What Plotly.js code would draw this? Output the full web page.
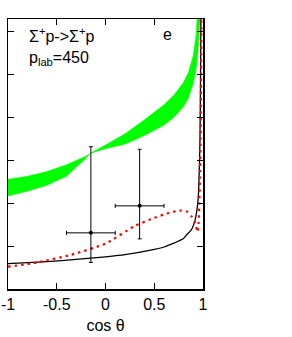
<!DOCTYPE html>
<html><head><meta charset="utf-8">
<script src="https://cdn.plot.ly/plotly-3.0.1.min.js"></script>
<style>html,body{margin:0;padding:0;background:#fff;}#chart{width:292px;height:337px;}</style>
</head><body><div id="chart"></div>
<script>
// Green band (upper / lower edges)
const bandUpperX = [-1, -0.8, -0.6, -0.4, -0.2, -0.16, 0, 0.2, 0.4, 0.6, 0.7, 0.8, 0.85, 0.9, 0.93, 0.95, 0.97];
const bandUpperY = [2.56, 2.63, 2.74, 2.90, 3.10, 3.16, 3.36, 3.62, 3.95, 4.30, 4.52, 4.82, 5.05, 5.45, 5.95, 6.5, 7.5];
const bandLowerX = [-1, -0.8, -0.6, -0.4, -0.2, -0.16, 0, 0.2, 0.4, 0.6, 0.7, 0.8, 0.85, 0.9, 0.93, 0.95, 0.97, 0.99];
const bandLowerY = [2.17, 2.28, 2.42, 2.63, 3.05, 3.16, 3.27, 3.38, 3.58, 3.82, 4.00, 4.25, 4.45, 4.80, 5.15, 5.6, 6.3, 8];
// Black solid curve
const solidX = [-1, -0.6, -0.3, 0, 0.2, 0.45, 0.6, 0.7, 0.8, 0.833, 0.88, 0.92, 0.946, 0.955, 0.962, 0.969, 0.975, 0.98];
const solidY = [0.59, 0.64, 0.69, 0.75, 0.80, 0.90, 0.98, 1.07, 1.18, 1.27, 1.38, 1.62, 2.0, 2.3, 2.8, 3.5, 5, 7];
// Red dotted curve
const dotX = [-1, -0.7, -0.35, 0, 0.3, 0.5, 0.63, 0.73, 0.78, 0.84, 0.884, 0.918, 0.946, 0.955, 0.962, 0.968, 0.975, 0.98, 0.985];
const dotY = [0.52, 0.62, 0.80, 1.06, 1.47, 1.66, 1.76, 1.82, 1.83, 1.80, 1.69, 1.54, 1.33, 1.55, 2.0, 2.5, 3.5, 5, 7];
// Data points
const ptX = [-0.15, 0.35];
const ptY = [1.31, 1.94];
const ptXerr = [0.25, 0.25];
const ptYerrPlus = [2.01, 1.32];
const ptYerrMinus = [0.69, 0.77];
// Ticks
const xTickVals = [-1, -0.5, 0, 0.5, 1];
const xTickText = ["-1", "-0.5", "0", "0.5", "1"];
const yTickVals = [0, 1, 2, 3, 4, 5, 6];

const font = "Liberation Sans, Arial, Helvetica, sans-serif";

const traces = [
  {x: bandLowerX, y: bandLowerY, mode: 'lines', line: {color: '#00ff00', width: 0.5}, hoverinfo: 'skip', showlegend: false},
  {x: bandUpperX, y: bandUpperY, mode: 'lines', fill: 'tonexty', fillcolor: '#00ff00', line: {color: '#00ff00', width: 0.5}, hoverinfo: 'skip', showlegend: false},
  {x: solidX, y: solidY, mode: 'lines', line: {color: '#000000', width: 1.3, shape: 'spline', smoothing: 0.6}, showlegend: false},
  {x: dotX, y: dotY, mode: 'lines', line: {color: '#ff0000', width: 2.2, dash: '2.5px,4px', shape: 'spline', smoothing: 0.6}, showlegend: false},
  {x: ptX, y: ptY, mode: 'markers', marker: {color: '#000', size: 4},
   error_x: {type: 'data', array: ptXerr, color: '#000', thickness: 1, width: 2},
   error_y: {type: 'data', symmetric: false, array: ptYerrPlus, arrayminus: ptYerrMinus, color: '#000', thickness: 1, width: 2},
   showlegend: false}
];

const layout = {
  width: 292, height: 337,
  margin: {l: 8, r: 89, t: 19, b: 48, pad: 0},
  paper_bgcolor: '#fff', plot_bgcolor: '#fff',
  font: {family: font, size: 16, color: '#000'},
  xaxis: {
    range: [-1, 1], tickvals: xTickVals, ticktext: xTickText,
    ticks: 'inside', ticklen: 6, tickwidth: 1.2, tickcolor: '#000',
    showline: true, linecolor: '#000', linewidth: 1.5, mirror: 'ticks',
    showgrid: false, zeroline: false,
    tickfont: {family: font, size: 16, color: '#000'},
    title: {text: 'cos θ', font: {family: font, size: 16, color: '#000'}, standoff: 8}
  },
  yaxis: {
    range: [0, 6.3], tickvals: yTickVals,
    ticks: 'inside', ticklen: 6, tickwidth: 1.2, tickcolor: '#000',
    showline: true, linecolor: '#000', linewidth: 1.5, mirror: 'ticks',
    showgrid: false, zeroline: false, showticklabels: false
  },
  annotations: [
    {xref: 'paper', yref: 'paper', x: 0.097, y: 0.941, xanchor: 'left', yanchor: 'middle', showarrow: false,
     text: 'Σ<sup>+</sup>p-&gt;Σ<sup>+</sup>p', font: {family: font, size: 16, color: '#000'}},
    {xref: 'paper', yref: 'paper', x: 0.097, y: 0.852, xanchor: 'left', yanchor: 'middle', showarrow: false,
     text: 'p<sub>lab</sub>=450', font: {family: font, size: 16, color: '#000'}},
    {xref: 'paper', yref: 'paper', x: 0.82, y: 0.941, xanchor: 'center', yanchor: 'middle', showarrow: false,
     text: 'e', font: {family: font, size: 16, color: '#000'}}
  ]
};

Plotly.newPlot('chart', traces, layout, {staticPlot: true, displayModeBar: false});
</script></body></html>
